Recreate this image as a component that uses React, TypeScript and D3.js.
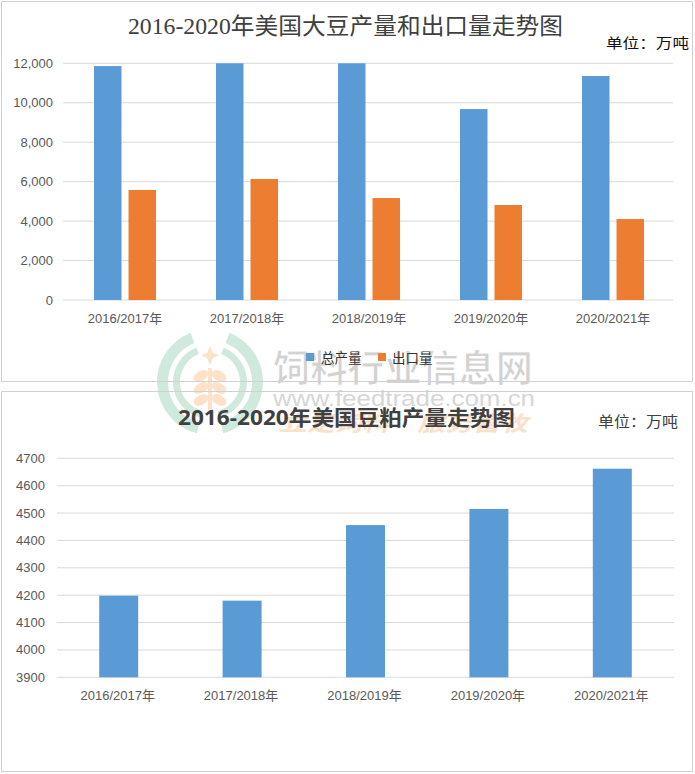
import React from "react";
import * as d3 from "d3";

const categories = ["2016/2017年", "2017/2018年", "2018/2019年", "2019/2020年", "2020/2021年"];
const seriesNames = ["总产量", "出口量"];
const production = [11860, 12000, 12000, 9680, 11355];
const exportsVol = [5580, 6135, 5170, 4815, 4105];
const mealProduction = [4198, 4180, 4456, 4515, 4662];
const topTicks = [0, 2000, 4000, 6000, 8000, 10000, 12000];
const bottomTicks = [3900, 4000, 4100, 4200, 4300, 4400, 4500, 4600, 4700];

const BLUE = "#5b9bd5";
const ORANGE = "#ed7d31";
const GRID = "#d9d9d9";
const LABEL = "#595959";
const SANS = "'Liberation Sans', Arial, 'Noto Sans CJK SC', sans-serif";
const CJK = "'Noto Sans CJK SC', sans-serif";

function Watermark() {
  const cx = 210, cy = 382;
  const arc = d3.arc();
  const rings = [
    { inner: 42, outer: 53 },
    { inner: 30, outer: 37 },
  ];
  const segs = [
    [-Math.PI * 0.92, -Math.PI * 0.12],
    [Math.PI * 0.12, Math.PI * 0.92],
  ];
  return (
    <g>
      {rings.map((r, i) =>
        segs.map((s, j) => (
          <path
            key={`${i}-${j}`}
            transform={`translate(${cx},${cy})`}
            d={arc({ innerRadius: r.inner, outerRadius: r.outer, startAngle: s[0], endAngle: s[1] }) || ""}
            fill="#cfeadd"
          />
        ))
      )}
      {/* wheat */}
      <g fill="#fde2c9">
        <path d={`M${cx},${cy - 36} L${cx + 3},${cy - 29} L${cx + 9},${cy - 27} L${cx + 3},${cy - 24} L${cx},${cy - 17} L${cx - 3},${cy - 24} L${cx - 9},${cy - 27} L${cx - 3},${cy - 29} Z`} />
        <rect x={cx - 2} y={cy - 14} width={4} height={44} />
        {[0, 1, 2].map((k) => (
          <g key={k}>
            <ellipse cx={cx - 9} cy={cy - 6 + k * 12} rx={8} ry={5} transform={`rotate(-30 ${cx - 9} ${cy - 6 + k * 12})`} />
            <ellipse cx={cx + 9} cy={cy - 6 + k * 12} rx={8} ry={5} transform={`rotate(30 ${cx + 9} ${cy - 6 + k * 12})`} />
          </g>
        ))}
      </g>
      <text x={273} y={382} textLength={260} lengthAdjust="spacingAndGlyphs" fontFamily={CJK} fontWeight="bold" fontSize={37} fill="#d2d2d2" stroke="#ffffff" strokeWidth={1}>
        饲料行业信息网
      </text>
      <text x={273} y={406} textLength={262} lengthAdjust="spacingAndGlyphs" fontFamily={SANS} fontSize={22} fill="#d6d6d6">
        www.feedtrade.com.cn
      </text>
      <text x={279} y={431} textLength={249} lengthAdjust="spacingAndGlyphs" fontFamily={CJK} fontWeight="bold" fontStyle="italic" fontSize={21} fill="#fde0c8">
        立足饲料　服务畜牧
      </text>
    </g>
  );
}

function TopChart() {
  const y = d3.scaleLinear().domain([0, 12000]).range([300, 63.3]).clamp(true);
  const x = d3.scaleBand<string>().domain(categories).range([63, 673]);
  const sub = d3.scaleBand<string>().domain(seriesNames).range([-30, 32]).paddingInner(0.203);
  const data = [production, exportsVol];
  const colors = [BLUE, ORANGE];
  const center = (c: string) => (x(c) as number) + x.bandwidth() / 2;
  const fmt = d3.format(",");
  return (
    <g>
      {topTicks.map((t) => (
        <g key={t}>
          <line x1={63} x2={673} y1={y(t)} y2={y(t)} stroke={GRID} strokeWidth={1} />
          <text x={53} y={y(t) + 4.5} textAnchor="end" fontFamily={SANS} fontSize={13} fill={LABEL}>
            {fmt(t)}
          </text>
        </g>
      ))}
      {seriesNames.map((s, si) =>
        categories.map((c, ci) => (
          <rect
            key={`${s}-${c}`}
            x={center(c) + (sub(s) as number)}
            width={sub.bandwidth()}
            y={y(data[si][ci])}
            height={300 - y(data[si][ci])}
            fill={colors[si]}
          />
        ))
      )}
      {categories.map((c) => (
        <text key={c} x={center(c) + 1} y={323} textAnchor="middle" fontFamily={SANS} fontSize={13} fill={LABEL}>
          {c}
        </text>
      ))}
      {/* legend */}
      <rect x={306} y={353} width={8} height={8} fill={BLUE} />
      <text x={321} y={362.5} fontFamily={CJK} fontSize={13.5} fill="#333">{seriesNames[0]}</text>
      <rect x={378} y={353} width={8} height={8} fill={ORANGE} />
      <text x={392} y={362.5} fontFamily={CJK} fontSize={13.5} fill="#333">{seriesNames[1]}</text>
      <text x={128} y={34} textLength={435} lengthAdjust="spacingAndGlyphs" fontFamily="'Liberation Serif', 'DejaVu Serif', 'Noto Sans CJK SC', serif" fontSize={23} fill="#404040">
        2016-2020年美国大豆产量和出口量走势图
      </text>
      <text x={606} y={48} textLength={83} lengthAdjust="spacingAndGlyphs" fontFamily={CJK} fontSize={14} fill="#111">
        单位：万吨
      </text>
    </g>
  );
}

function BottomChart() {
  const y = d3.scaleLinear().domain([3900, 4700]).range([677.3, 458.3]);
  const x = d3.scaleBand<string>().domain(categories).range([57, 674]);
  const bw = x.bandwidth() * 0.316;
  const center = (c: string) => (x(c) as number) + x.bandwidth() / 2;
  return (
    <g>
      {bottomTicks.map((t) => (
        <g key={t}>
          <line x1={57} x2={674} y1={y(t)} y2={y(t)} stroke={GRID} strokeWidth={1} />
          <text x={45} y={y(t) + 4.5} textAnchor="end" fontFamily={SANS} fontSize={13} fill={LABEL}>
            {t}
          </text>
        </g>
      ))}
      {categories.map((c, i) => (
        <rect key={c} x={center(c) - bw / 2} width={bw} y={y(mealProduction[i])} height={677.3 - y(mealProduction[i])} fill={BLUE} />
      ))}
      {categories.map((c) => (
        <text key={c} x={center(c) - 1} y={700} textAnchor="middle" fontFamily={SANS} fontSize={13} fill={LABEL}>
          {c}
        </text>
      ))}
      <text x={178} y={425} textLength={337} lengthAdjust="spacingAndGlyphs" fontFamily="'Open Sans', 'Noto Sans CJK SC', sans-serif" fontWeight="bold" fontSize={21} fill="#404040">
        2016-2020年美国豆粕产量走势图
      </text>
      <text x={598} y={427} textLength={80} lengthAdjust="spacingAndGlyphs" fontFamily={CJK} fontSize={14.5} fill="#404040">
        单位：万吨
      </text>
    </g>
  );
}

export default function App() {
  return (
    <svg width={695} height={774} style={{ position: "absolute", left: 0, top: 0, background: "#fff" }}>
      <rect x={0} y={0} width={695} height={774} fill="#fff" />
      <Watermark />
      <rect x={1.5} y={1.5} width={691} height={380} fill="none" stroke="#d0d0d0" />
      <rect x={1.5} y={391.5} width={691} height={380} fill="none" stroke="#d0d0d0" />
      <TopChart />
      <BottomChart />
    </svg>
  );
}
